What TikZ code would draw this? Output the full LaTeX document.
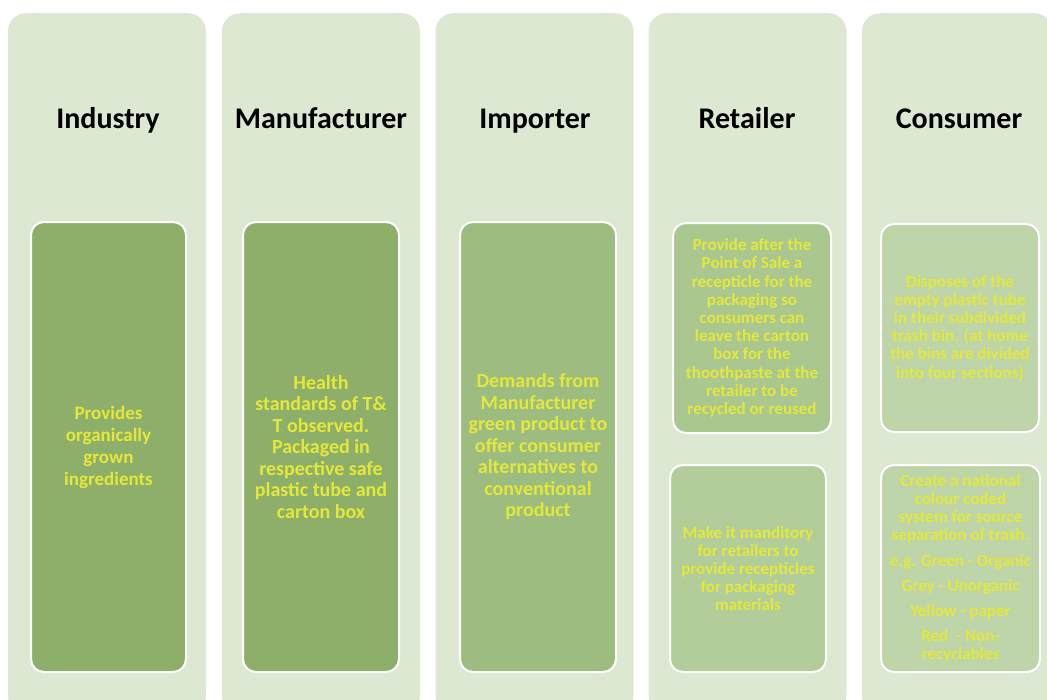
\documentclass[tikz,border=0pt]{standalone}
\usepackage{fontspec}
\setmainfont{Carlito}
\usetikzlibrary{positioning}

\definecolor{palegreen}{RGB}{221,232,211}
\definecolor{leafdark}{RGB}{142,175,106}
\definecolor{leafmid}{RGB}{156,188,128}
\definecolor{leaflight}{RGB}{170,199,144}
\definecolor{leafpale}{RGB}{178,205,154}
\definecolor{leafwash}{RGB}{189,213,169}
\definecolor{textyellow}{RGB}{228,232,58}

\begin{document}
\begin{tikzpicture}[x=1pt, y=-1pt,
  column/.style={rectangle, rounded corners=18pt, fill=palegreen, minimum width=198pt, minimum height=700pt, anchor=north},
  heading/.style={font=\bfseries\fontsize{30}{34}\selectfont, text=black, anchor=base},
  card/.style={rectangle, rounded corners=13pt, draw=white, line width=2pt, text=textyellow, align=center, font=\bfseries\fontsize{20}{21.5}\selectfont},
  smallcard/.style={card, font=\bfseries\fontsize{17}{18.2}\selectfont}]
\clip (0,0) rectangle (1047,699);
\fill[white] (0,0) rectangle (1047,699);

% the five pillars
\node[column] (indcol) at (107,13) {};
\node[column] (mancol) at (321,13) {};
\node[column] (impcol) at (534.5,13) {};
\node[column] (retcol) at (747.5,13) {};
\node[column, minimum width=190pt] (concol) at (957,13) {};

\node[heading] (ind) at (108,128) {Industry};
\node[heading] (man) at (321,128) {Manufacturer};
\node[heading] (imp) at (535,128) {Importer};
\node[heading] (ret) at (747,128) {Retailer};
\node[heading] (con) at (959,128) {Consumer};

% tall cards
\node[card, fill=leafdark, minimum width=155pt, minimum height=450pt, font=\bfseries\fontsize{19}{22}\selectfont] (indcard) at (108.5,447) {Provides\\organically\\grown\\ingredients};
\node[card, fill=leafdark, minimum width=156pt, minimum height=450pt] (mancard) at (321,447) {Health\\standards of T\&\\T observed.\\Packaged in\\respective safe\\plastic tube and\\carton box};
\node[card, fill=leafmid, minimum width=156pt, minimum height=450pt] (impcard) at (538,447) {Demands from\\Manufacturer\\green product to\\offer consumer\\alternatives to\\conventional\\product};

% split cards
\node[smallcard, fill=leaflight, minimum width=158pt, minimum height=210pt] (rettop) at (752,328) {Provide after the\\Point of Sale a\\recepticle for the\\packaging so\\consumers can\\leave the carton\\box for the\\thoothpaste at the\\retailer to be\\recycled or reused};
\node[smallcard, fill=leafpale, minimum width=156pt, minimum height=207pt] (retbot) at (748,568.5) {Make it manditory\\for retailers to\\provide recepticles\\for packaging\\materials};
\node[smallcard, fill=leafwash, minimum width=158pt, minimum height=208pt] (contop) at (960,328) {Disposes of the\\empty plastic tube\\in their subdivided\\trash bin. (at home\\the bins are divided\\into four sections)};
\node[smallcard, fill=leafwash, minimum width=159pt, minimum height=207pt] (conbot) at (960.5,568.5) {Create a national\\colour coded\\system for source\\separation of trash.\\[7pt]e.g. Green - Organic\\[7pt]Grey - Unorganic\\[7pt]Yellow - paper\\[7pt]Red~ - Non-\\recyclables};
\end{tikzpicture}
\end{document}
